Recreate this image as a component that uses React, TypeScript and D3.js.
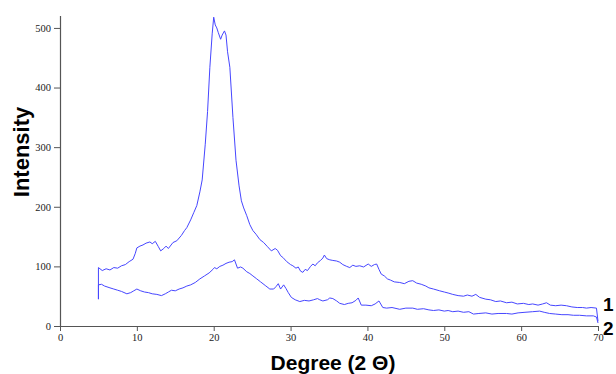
import { useEffect, useRef } from "react";
import * as d3 from "d3";

// [degree, intensity]
const series1 = [
  [5, 45], [5, 98], [5.5, 93], [6, 96], [6.5, 94], [7, 98], [7.5, 97], [8, 101], [8.5, 103],
  [9, 108], [9.5, 112], [9.8, 122], [10, 131], [10.4, 134], [10.8, 136], [11.2, 139], [11.7, 141],
  [12, 138], [12.4, 142], [12.8, 133], [13.1, 126], [13.5, 130], [13.8, 134], [14.1, 130],
  [14.7, 140], [15.2, 143], [15.8, 152], [16.2, 160], [16.5, 165], [17, 178], [17.4, 190],
  [17.8, 202], [18.2, 225], [18.5, 245], [18.9, 305], [19.2, 360], [19.5, 434], [19.8, 490],
  [20, 518], [20.2, 505], [20.4, 500], [20.6, 492], [20.9, 481], [21.1, 488], [21.4, 495],
  [21.6, 488], [21.8, 460], [22.1, 434], [22.5, 350], [22.9, 278], [23.3, 235], [23.6, 210],
  [23.9, 198], [24.3, 185], [24.7, 170], [25.1, 160], [25.5, 154], [26, 145], [26.5, 140],
  [27, 133], [27.5, 126], [28, 130], [28.3, 127], [28.7, 118], [29, 115], [29.5, 108], [30, 103],
  [30.3, 101], [30.7, 97], [31, 99], [31.3, 92], [31.6, 90], [31.9, 95], [32.2, 93], [32.6, 100],
  [32.9, 104], [33.2, 101], [33.5, 106], [33.9, 110], [34.2, 114], [34.4, 119], [34.7, 113],
  [35.1, 111], [35.5, 110], [36, 109], [36.4, 107], [36.8, 103], [37.3, 100], [37.7, 98],
  [38.1, 102], [38.5, 100], [39, 101], [39.5, 99], [40.1, 104], [40.5, 100], [40.9, 103],
  [41.2, 104], [41.5, 95], [41.8, 87], [42.2, 84], [42.6, 79], [43, 77], [43.5, 74], [44.2, 73],
  [44.8, 71], [45.4, 75], [45.9, 76], [46.4, 72], [47, 70], [47.6, 67], [48, 64], [48.6, 62],
  [49.4, 59], [50, 57], [50.6, 55], [51.1, 53], [51.8, 51], [52.5, 50], [53, 52], [53.6, 50],
  [54.1, 53], [54.6, 48], [55.4, 45], [56, 44], [56.7, 41], [57.3, 42], [58.1, 39], [58.8, 40],
  [59.5, 37], [60.3, 38], [61, 36], [61.5, 37], [62.2, 35], [62.8, 37], [63.3, 39], [63.8, 35],
  [64.5, 34], [65.2, 35], [65.9, 34], [66.6, 32], [67.3, 31], [68, 31], [68.5, 30], [69.1, 31],
  [69.8, 30], [70, 8],
];

const series2 = [
  [5, 45], [5, 69], [5.4, 70], [5.8, 67], [6.5, 64], [7, 62], [7.5, 60], [8, 58], [8.7, 54],
  [9.2, 56], [9.6, 59], [10, 62], [10.5, 59], [11, 57], [11.5, 56], [12, 54], [12.6, 53],
  [13.2, 51], [13.7, 54], [14.1, 57], [14.5, 60], [15, 59], [15.5, 62], [16, 64], [16.5, 67],
  [17, 69], [17.6, 73], [18.2, 79], [18.8, 84], [19.4, 89], [19.9, 95], [20.1, 98], [20.4, 96],
  [20.8, 100], [21.2, 102], [21.6, 105], [22, 107], [22.4, 108], [22.7, 111], [22.9, 104],
  [23.1, 97], [23.5, 99], [23.8, 97], [24.3, 91], [24.7, 88], [25.1, 84], [25.6, 79], [26.1, 74],
  [26.7, 68], [27.3, 62], [27.8, 62], [28.1, 66], [28.4, 71], [28.7, 62], [29.1, 69], [29.4, 63],
  [29.7, 56], [30.1, 48], [30.6, 44], [31.2, 41], [31.8, 43], [32.4, 42], [33, 44], [33.5, 46],
  [33.8, 44], [34.2, 42], [34.8, 44], [35.1, 47], [35.5, 46], [36, 42], [36.4, 38], [37, 36],
  [37.5, 38], [38, 39], [38.5, 43], [38.8, 47], [39.2, 35], [39.8, 35], [40.5, 34], [41, 37],
  [41.5, 42], [42, 31], [42.5, 30], [43.2, 31], [44.2, 28], [45, 30], [45.9, 30], [46.5, 28],
  [47.3, 29], [48, 27], [48.6, 26], [49.3, 27], [50, 25], [50.5, 26], [51.1, 24], [51.8, 25],
  [52.5, 23], [53.2, 24], [53.8, 20], [54.5, 21], [55.4, 22], [56.2, 20], [57, 21], [58.1, 21],
  [58.8, 20], [59.6, 22], [60.5, 23], [61.5, 24], [62.4, 25], [63, 23], [63.7, 21], [64.5, 20],
  [65.3, 19], [66.1, 19], [66.8, 18], [67.6, 18], [68.5, 17], [69.4, 17], [69.8, 15], [70, 5],
];

const seriesLabels = ["1", "2"];
const xTicks = [0, 10, 20, 30, 40, 50, 60, 70];
const yTicks = [0, 100, 200, 300, 400, 500];

export default function App() {
  const svgRef = useRef(null);
  const width = 616;
  const height = 374;

  useEffect(() => {
    const svg = d3.select(svgRef.current);
    svg.selectAll("*").remove();

    const x = d3.scaleLinear().domain([0, 70]).range([60, 598]);
    const y = d3.scaleLinear().domain([0, 520]).range([326, 16]);

    // axes
    const xAxis = svg
      .append("g")
      .attr("transform", `translate(0,${y(0)})`)
      .call(d3.axisBottom(x).tickValues(xTicks).tickSize(5).tickPadding(3));
    const yAxis = svg
      .append("g")
      .attr("transform", `translate(${x(0)},0)`)
      .call(d3.axisLeft(y).tickValues(yTicks).tickSize(6).tickPadding(3));

    [xAxis, yAxis].forEach((g) => {
      g.select(".domain").attr("stroke", "#555").attr("stroke-width", 1.2);
      g.selectAll(".tick line").attr("stroke", "#555");
      g.selectAll(".tick text")
        .attr("fill", "#222")
        .style("font-family", "'Liberation Serif', serif")
        .style("font-size", "10.5px");
    });
    xAxis.select(".domain").attr("d", `M${x(0) - 6},0.5H${x(70)}`);
    yAxis.select(".domain").attr("d", `M0.5,${y(0)}V${y(520)}`);

    // lines
    const line = d3
      .line()
      .x((d) => x(d[0]))
      .y((d) => y(d[1]));

    [series1, series2].forEach((s) => {
      svg
        .append("path")
        .datum(s)
        .attr("d", line)
        .attr("fill", "none")
        .attr("stroke", "#4646ff")
        .attr("stroke-width", 1)
        .attr("stroke-linejoin", "round");
    });

    // series labels at the right end
    svg
      .selectAll(".series-label")
      .data(seriesLabels)
      .join("text")
      .attr("class", "series-label")
      .attr("x", 603)
      .attr("y", (d, i) => 311 + i * 24)
      .style("font-family", "'Liberation Sans', Arial, sans-serif")
      .style("font-weight", "bold")
      .style("font-size", "19px")
      .text((d) => d);

    // axis titles
    svg
      .append("text")
      .attr("transform", "translate(29,152) rotate(-90)")
      .attr("text-anchor", "middle")
      .style("font-family", "'Liberation Sans', Arial, sans-serif")
      .style("font-weight", "bold")
      .style("font-size", "22px")
      .text("Intensity");

    svg
      .append("text")
      .attr("x", 333)
      .attr("y", 370)
      .attr("text-anchor", "middle")
      .style("font-family", "'Liberation Sans', Arial, sans-serif")
      .style("font-weight", "bold")
      .style("font-size", "21px")
      .text("Degree (2 Θ)");
  }, []);

  return (
    <svg
      ref={svgRef}
      width={width}
      height={height}
      style={{ position: "absolute", left: 0, top: 0, background: "white" }}
    ></svg>
  );
}
